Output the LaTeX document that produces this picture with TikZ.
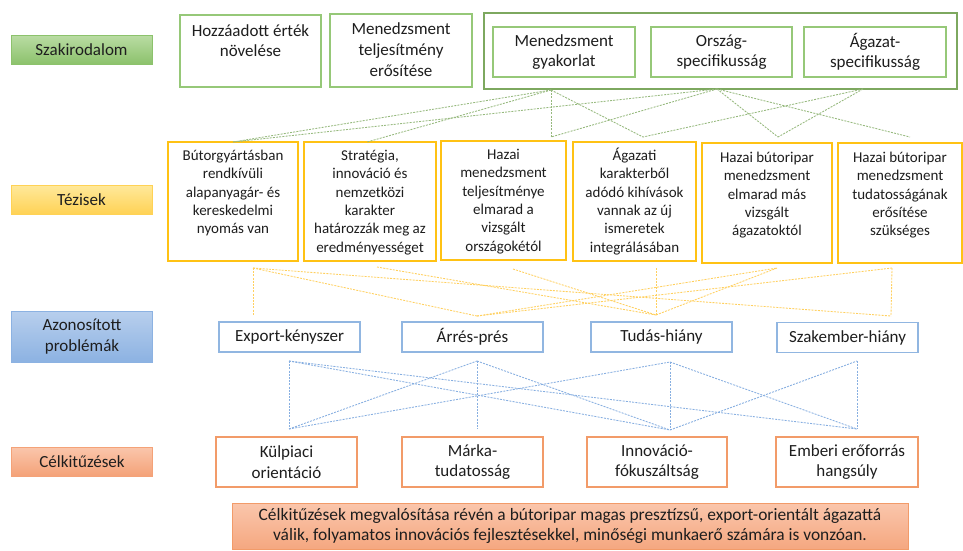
\documentclass[tikz,border=0pt]{standalone}
\usepackage{fontspec}
\setmainfont{Carlito}
\usetikzlibrary{calc}
\definecolor{txt}{RGB}{30,30,30}
\definecolor{grnB}{RGB}{150,200,120}
\definecolor{grnBig}{RGB}{125,168,95}
\definecolor{yelB}{RGB}{255,194,20}
\definecolor{bluB}{RGB}{145,182,225}
\definecolor{orB}{RGB}{242,155,105}
\definecolor{gLine}{RGB}{150,185,125}
\definecolor{yLine}{RGB}{255,208,95}
\definecolor{bLine}{RGB}{135,175,225}
\definecolor{szTop}{RGB}{186,220,164}
\definecolor{szBot}{RGB}{140,194,108}
\definecolor{teTop}{RGB}{255,233,155}
\definecolor{teBot}{RGB}{255,210,85}
\definecolor{azTop}{RGB}{184,207,237}
\definecolor{azBot}{RGB}{140,178,226}
\definecolor{ceTop}{RGB}{250,198,172}
\definecolor{ceBot}{RGB}{244,162,120}
\newcommand{\fsA}{\fontsize{17}{20.7}\selectfont}
\newcommand{\fsB}{\fontsize{15}{18.3}\selectfont}
\newcommand{\fsC}{\fontsize{17.4}{20.5}\selectfont}
\newcommand{\fl}[1]{\rule{0pt}{#1pt}}
\begin{document}
\begin{tikzpicture}[x=1pt,y=-1pt,
  every node/.style={inner sep=0pt, text=txt},
  lab/.style={line width=0.6pt, minimum width=141pt, font=\fsA, align=center},
  gbox/.style={draw=grnB, line width=1.2pt},
  bigbox/.style={draw=grnBig, line width=1.8pt},
  tbox/.style={draw=yelB, line width=1.2pt},
  pbox/.style={draw=bluB, line width=1.2pt, minimum height=30pt, font=\fsA},
  obox/.style={draw=orB, line width=1.2pt, minimum height=50pt, font=\fsA, align=center},
  ttext/.style={align=center, font=\fsB, anchor=north},
  gtext/.style={align=center, font=\fsA, anchor=north},
  conn/.style={line width=0.85pt, dash pattern=on 2pt off 1.2pt},
  gline/.style={conn, draw=gLine},
  yline/.style={conn, draw=yLine},
  bline/.style={conn, draw=bLine}
]
\useasboundingbox (0,0) rectangle (963,550);
\fill[white] (0,0) rectangle (963,550);

% left labels
\node[lab, draw=szBot, top color=szTop, bottom color=szBot, minimum height=29pt] (lsz) at (81.5,49.5) {Szakirodalom};
\node[lab, draw=teBot, top color=teTop, bottom color=teBot, minimum height=29pt] (lte) at (81.5,199.5) {Tézisek};
\node[lab, draw=azBot, top color=azTop, bottom color=azBot, minimum height=51pt] (laz) at (82,336.5) {Azonosított\\problémák};
\node[lab, draw=ceBot, top color=ceTop, bottom color=ceBot, minimum height=29pt] (lce) at (82,461.5) {Célkitűzések};

% top green boxes
\node[gbox, minimum width=141pt, minimum height=72pt] (h1) at (250.5,51) {};
\node[gtext] (h1x) at ([yshift=-8pt]h1.north) {\fl{13.5}Hozzáadott érték\\növelése};
\node[gbox, minimum width=142pt, minimum height=73pt] (h2) at (401,50.5) {};
\node[gtext] (h2x) at ([yshift=-7.5pt]h2.north) {\fl{13.5}Menedzsment\\teljesítmény\\erősítése};
\node[bigbox, minimum width=473pt, minimum height=76pt] (big) at (720.5,51) {};
\node[gbox, minimum width=142pt, minimum height=50pt, font=\fsA, align=center] (i1) at (564,52) {Menedzsment\\gyakorlat};
\node[gbox, minimum width=141pt, minimum height=50pt, font=\fsA, align=center] (i2) at (721.5,52) {Ország-\\specifikusság};
\node[gbox, minimum width=142pt, minimum height=50pt, font=\fsA, align=center] (i3) at (875,52) {Ágazat-\\specifikusság};

% thesis boxes
\node[tbox, minimum width=130pt, minimum height=119pt] (t1) at (233,201.5) {};
\node[ttext] (t1x) at ([yshift=-7pt]t1.north) {\fl{12}Bútorgyártásban\\rendkívüli\\alapanyagár- és\\kereskedelmi\\nyomás van};
\node[tbox, minimum width=132pt, minimum height=119pt] (t2) at (370,201.5) {};
\node[ttext] (t2x) at ([yshift=-7pt]t2.north) {\fl{12}Stratégia,\\innováció és\\nemzetközi\\karakter\\határozzák meg az\\eredményességet};
\node[tbox, minimum width=125pt, minimum height=119pt] (t3) at (503.5,200.5) {};
\node[ttext] (t3x) at ([yshift=-7pt]t3.north) {\fl{12}Hazai\\menedzsment\\teljesítménye\\elmarad a\\vizsgált\\országokétól};
\node[tbox, minimum width=123pt, minimum height=119pt] (t4) at (634.5,201.5) {};
\node[ttext] (t4x) at ([yshift=-6.5pt]t4.north) {\fl{12}Ágazati\\karakterből\\adódó kihívások\\vannak az új\\ismeretek\\integrálásában};
\node[tbox, minimum width=130pt, minimum height=120pt] (t5) at (767,203) {};
\node[ttext] (t5x) at ([yshift=-8pt]t5.north) {\fl{12}Hazai bútoripar\\menedzsment\\elmarad más\\vizsgált\\ágazatoktól};
\node[tbox, minimum width=124pt, minimum height=120pt] (t6) at (900,203) {};
\node[ttext] (t6x) at ([yshift=-8pt]t6.north) {\fl{12}Hazai bútoripar\\menedzsment\\tudatosságának\\erősítése\\szükséges};

% problem boxes
\node[pbox, minimum width=141pt] (pe) at (289.5,337) {Export-kényszer};
\node[pbox, minimum width=141pt] (pa) at (472.5,337) {Árrés-prés};
\node[pbox, minimum width=141pt] (pt) at (661.5,337) {Tudás-hiány};
\node[pbox, minimum width=141pt] (ps) at (847.5,337.5) {Szakember-hiány};

% goal boxes
\node[obox, minimum width=141pt] (g1) at (286.5,462) {Külpiaci\\orientáció};
\node[obox, minimum width=141pt] (g2) at (472.5,462) {Márka-\\tudatosság};
\node[obox, minimum width=140pt] (g3) at (657,462) {Innováció-\\fókuszáltság};
\node[obox, minimum width=142pt] (g4) at (847,462) {Emberi erőforrás\\hangsúly};

% summary
\node[draw=orB, line width=0.8pt, top color=ceTop, bottom color=ceBot!85!ceTop, minimum width=676pt, minimum height=46pt, font=\fsC, align=center] (sum) at (570,526) {Célkitűzések megvalósítása révén a bútoripar magas presztízsű, export-orientált ágazattá\\válik, folyamatos innovációs fejlesztésekkel, minőségi munkaerő számára is vonzóan.};

% green connector points
\coordinate (gA) at (551,90);
\coordinate (gB) at (717,89);
\coordinate (gC) at (863,89);
\coordinate (gT1) at (233,142);
\coordinate (gT2) at (367,142);
\coordinate (gT3) at (551,137);
\coordinate (gT4) at (643,137);
\coordinate (gT5) at (778,137);
\coordinate (gT6) at (910,137);
\draw[gline] (gA) -- (gT1);
\draw[gline] (gA) -- (gT2);
\draw[gline] (gA) -- (gT3);
\draw[gline] (gA) -- (gT4);
\draw[gline] (gB) -- (gT1);
\draw[gline] (gB) -- (gT3);
\draw[gline] (gB) -- (gT5);
\draw[gline] (gB) -- (gT6);
\draw[gline] (gC) -- (gT4);
\draw[gline] (gC) -- (gT5);

% yellow connector points
\coordinate (yT1) at (253,268);
\coordinate (yT2) at (377,267);
\coordinate (yT3) at (513,269);
\coordinate (yT4) at (656,268);
\coordinate (yT5) at (777,268);
\coordinate (yT6) at (892,268);
\coordinate (yPE) at (253,315);
\coordinate (yPA) at (477,316);
\coordinate (yPT) at (656,315);
\coordinate (yPS) at (891,316);
\draw[yline] (yT1) -- (yPE);
\draw[yline] (yT1) -- (yPA);
\draw[yline] (yT1) -- (yPS);
\draw[yline] (yT2) -- (yPT);
\draw[yline] (yT3) -- (yPT);
\draw[yline] (yT4) -- (yPT);
\draw[yline] (yPA) -- (yT5);
\draw[yline] (yPA) -- (yT6);
\draw[yline] (yPT) -- (yT5);
\draw[yline] (yT6) -- (yPS);

% blue connector points
\coordinate (bPE) at (289,361);
\coordinate (bPA) at (477,361);
\coordinate (bPT) at (670,362);
\coordinate (bPS) at (857,361);
\coordinate (bG1) at (289,429);
\coordinate (bG2) at (477,429);
\coordinate (bG3) at (670,430);
\coordinate (bG4) at (857,429);
\draw[bline] (bPE) -- (bG1);
\draw[bline] (bPE) -- (bG3);
\draw[bline] (bPE) -- (bG4);
\draw[bline] (bG1) -- (bPA);
\draw[bline] (bG1) -- (bPT);
\draw[bline] (bPA) -- (bG2);
\draw[bline] (bPA) -- (bG3);
\draw[bline] (bPT) -- (bG3);
\draw[bline] (bPT) -- (bG4);
\draw[bline] (bG3) -- (bPS);
\draw[bline] (bPS) -- (bG4);
\end{tikzpicture}
\end{document}
